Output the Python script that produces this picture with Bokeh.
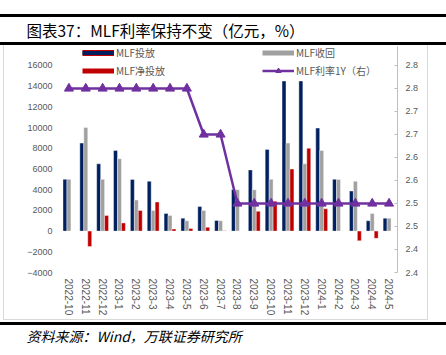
from bokeh.plotting import figure
from bokeh.models import (ColumnDataSource, FactorRange, Range1d, LinearAxis, FixedTicker,
                          Legend, LegendItem, Title)
from bokeh.transform import dodge
from bokeh.embed import file_html
from bokeh.resources import INLINE

# ---------------- data ----------------
months = ["2022-10", "2022-11", "2022-12", "2023-1", "2023-2", "2023-3", "2023-4", "2023-5",
          "2023-6", "2023-7", "2023-8", "2023-9", "2023-10", "2023-11", "2023-12", "2024-1",
          "2024-2", "2024-3", "2024-4", "2024-5"]
mlf_put = [5000, 8500, 6500, 7790, 4990, 4810, 1700, 1250, 2370, 1030,
           4010, 5910, 7890, 14500, 14500, 9950, 5000, 3870, 1000, 1250]
mlf_back = [5000, 10000, 5000, 7000, 3000, 2000, 1500, 1000, 2000, 1000,
            4000, 4000, 5000, 8500, 6500, 7790, 4990, 4810, 1700, 1250]
mlf_net = [0, -1500, 1500, 790, 1990, 2810, 200, 250, 370, 30,
           10, 1910, 2890, 6000, 8000, 2160, 10, -940, -700, 0]
mlf_rate = [2.75, 2.75, 2.75, 2.75, 2.75, 2.75, 2.75, 2.75, 2.65, 2.65,
            2.50, 2.50, 2.50, 2.50, 2.50, 2.50, 2.50, 2.50, 2.50, 2.50]
left_ticks = [-4000, -2000, 0, 2000, 4000, 6000, 8000, 10000, 12000, 14000, 16000]
rate_ticks = [2.35, 2.40, 2.45, 2.50, 2.55, 2.60, 2.65, 2.70, 2.75, 2.80]
rate_tick_labels = ["2.4", "2.4", "2.5", "2.5", "2.6", "2.6", "2.7", "2.7", "2.8", "2.8"]

title_text = "图表37：MLF利率保持不变（亿元，%）"
source_text = "资料来源：Wind，万联证券研究所"
names = ["MLF投放", "MLF收回", "MLF净投放", "MLF利率1Y（右）"]

NAVY = "#002060"
GRAY = "#A0A0A0"
RED = "#C00000"
PURPLE = "#7030A0"
TXT = "#595959"
CJK = "Noto Sans CJK SC"
LAT = "Liberation Sans"

src = ColumnDataSource(dict(month=months, put=mlf_put, back=mlf_back, net=mlf_net, rate=mlf_rate))

# page decoration (rules above/below title and source, light frame box) as CSS backgrounds
deco = [  # (x, y, w, h, color)
    ("3px", "45px", "1px", "275px", "#D9D9D9"),
    ("427px", "45px", "1px", "275px", "#D9D9D9"),
    ("3px", "319px", "425px", "1px", "#D9D9D9"),
    ("0px", "42px", "446px", "3px", "#000000"),
    ("0px", "322px", "446px", "3px", "#000000"),
    ("0px", "14px", "446px", "3px", "#000000"),
]
css = {
    "background-color": "white",
    "background-image": ", ".join(f"linear-gradient({c}, {c})" for *_, c in deco),
    "background-size": ", ".join(f"{w} {h}" for _, _, w, h, _ in deco),
    "background-position": ", ".join(f"{x} {y}" for x, y, *_ in deco),
    "background-repeat": "no-repeat",
}

# ---------------- figure ----------------
p = figure(width=446, height=354, x_range=FactorRange(*months, range_padding=0),
           y_range=Range1d(-4000, 17835), output_backend="svg", toolbar_location=None,
           min_border_left=60, min_border_right=49, min_border_top=46, min_border_bottom=82,
           styles=css)
p.outline_line_color = None
p.grid.visible = False
p.background_fill_color = None
p.border_fill_color = None
p.extra_y_ranges = {"rate": Range1d(2.35, 2.8413)}

# title (above) and source (below)
p.title.text = title_text
p.title.align = "left"
p.title.offset = -34
p.title.standoff = 10.5
p.title.text_font = CJK
p.title.text_font_size = "15.5px"
p.title.text_font_style = "normal"
p.title.text_color = "black"
p.add_layout(Title(text=source_text, align="left", offset=-34, standoff=10,
                   text_font=CJK, text_font_size="14px", text_font_style="italic",
                   text_color="black"), "below")

bw = 0.235
r_put = p.vbar(x=dodge("month", -bw, range=p.x_range), top="put", bottom=0, width=bw,
               source=src, fill_color=NAVY, line_color="white", line_width=0.4)
r_back = p.vbar(x=dodge("month", 0, range=p.x_range), top="back", bottom=0, width=bw,
                source=src, fill_color=GRAY, line_color="white", line_width=0.4)
r_net = p.vbar(x=dodge("month", bw, range=p.x_range), top="net", bottom=0, width=bw,
               source=src, fill_color=RED, line_color="white", line_width=0.4)
r_line = p.line(x="month", y="rate", source=src, y_range_name="rate",
                line_color=PURPLE, line_width=2.5)
r_tri = p.scatter(x="month", y="rate", source=src, y_range_name="rate", marker="triangle",
                  size=9, fill_color=PURPLE, line_color=PURPLE)

# axes
ly = p.yaxis[0]
ly.ticker = FixedTicker(ticks=left_ticks)
ly.axis_line_color = None
ly.major_tick_line_color = None
ly.major_tick_in = 0
ly.major_tick_out = 0
ly.minor_tick_line_color = None
ly.minor_tick_out = 0
ly.major_label_standoff = 8
ly.major_label_text_font = LAT
ly.major_label_text_font_size = "9px"
ly.major_label_text_color = TXT

ry = LinearAxis(y_range_name="rate", ticker=FixedTicker(ticks=rate_ticks),
                major_label_overrides={t: l for t, l in zip(rate_ticks, rate_tick_labels)})
ry.axis_line_color = "#BFBFBF"
ry.major_tick_line_color = "#BFBFBF"
ry.major_tick_in = 3
ry.major_tick_out = 0
ry.minor_tick_line_color = None
ry.minor_tick_out = 0
ry.major_label_standoff = 8
ry.major_label_text_font = LAT
ry.major_label_text_font_size = "9px"
ry.major_label_text_color = TXT
p.add_layout(ry, "right")

xa = p.xaxis[0]
xa.axis_line_color = None
xa.major_tick_line_color = None
xa.major_tick_in = 0
xa.major_tick_out = 0
xa.minor_tick_line_color = None
xa.minor_tick_out = 0
xa.major_label_orientation = "vertical"
xa.major_label_standoff = 6
xa.major_label_text_font = LAT
xa.major_label_text_font_size = "10px"
xa.major_label_text_color = TXT

# legend-only swatches (sources with a single empty point)
def swatch(color, width):
    s = ColumnDataSource(dict(x=[months[0]], y=[float("nan")]))
    return p.line(x="x", y="y", source=s, line_color=color, line_width=width)

sw_put_border = swatch(RED, 6)
sw_put = swatch(NAVY, 4)
sw_net = swatch(RED, 5)
sw_back = swatch(GRAY, 5)

def make_legend(items, loc):
    return Legend(items=items, location=loc, orientation="vertical",
                  glyph_width=32, glyph_height=13, label_height=13, spacing=3,
                  label_standoff=2, padding=0, margin=0,
                  border_line_color=None, background_fill_alpha=0,
                  label_text_font=CJK, label_text_font_size="10px", label_text_color=TXT)

leg_l = make_legend([LegendItem(label=names[0], renderers=[sw_put_border, sw_put]),
                     LegendItem(label=names[2], renderers=[sw_net])], (22, 194))
leg_r = make_legend([LegendItem(label=names[1], renderers=[sw_back]),
                     LegendItem(label=names[3], renderers=[r_line, r_tri])], (202, 194))
p.add_layout(leg_l, "center")
p.add_layout(leg_r, "center")

open("out.html", "w").write(file_html(p, INLINE))
